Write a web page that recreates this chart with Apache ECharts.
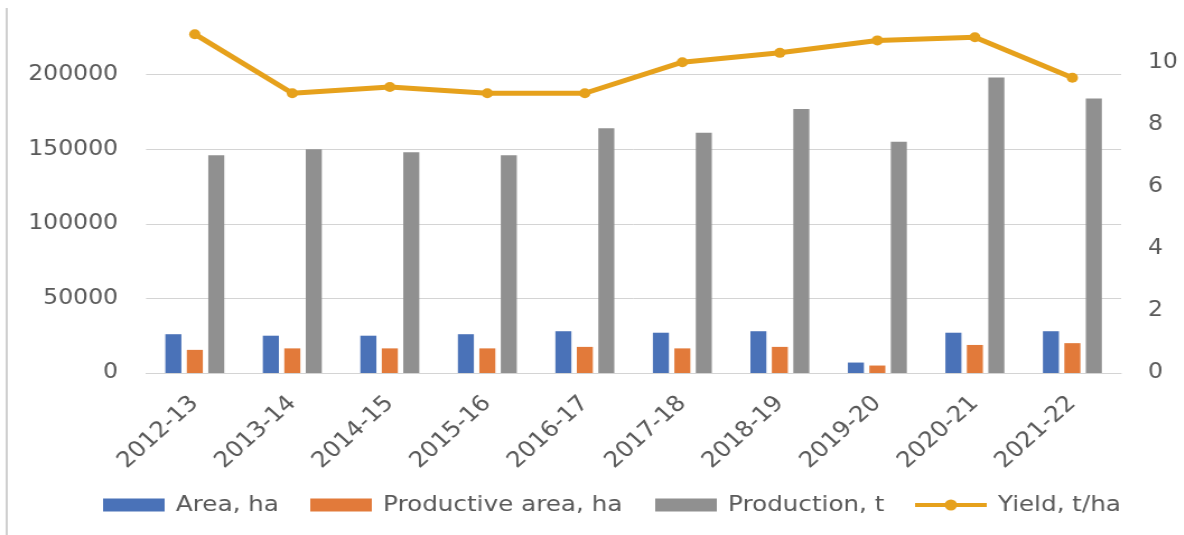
<!DOCTYPE html>
<html>
<head>
<meta charset="utf-8">
<title>Area, production and yield</title>
<script src="https://cdn.jsdelivr.net/npm/echarts@6/dist/echarts.min.js"></script>
<style>
  html, body { margin: 0; padding: 0; background: #ffffff; overflow: hidden; }
  #wrap { width: 1184px; height: 535px; overflow: hidden; position: relative; }
  /* the chart is laid out slightly narrower and widened horizontally */
  #chart { width: 1057px; height: 535px; transform: scaleX(1.12); transform-origin: 0 0; }
</style>
</head>
<body>
<div id="wrap"><div id="chart"></div></div>
<script>
const seasons = ['2012-13', '2013-14', '2014-15', '2015-16', '2016-17',
                 '2017-18', '2018-19', '2019-20', '2020-21', '2021-22'];
const areaHa = [26000, 25000, 25000, 26000, 28000, 27000, 28000, 7000, 27000, 28000];
const productiveAreaHa = [15500, 16500, 16500, 16500, 17500, 16500, 17500, 5000, 18800, 20000];
const productionT = [146000, 150000, 148000, 146000, 164000, 161000, 177000, 155000, 198000, 184000];
const yieldTHa = [10.9, 9.0, 9.2, 9.0, 9.0, 10.0, 10.3, 10.7, 10.8, 9.5];

const leftAxis = { min: 0, max: 250000, step: 50000 };
const rightAxis = { min: 0, max: 12, step: 2 };

const names = ['Area, ha', 'Productive area, ha', 'Production, t', 'Yield, t/ha'];
const colors = ['#4a72b8', '#e27a3a', '#909090', '#e6a11c'];

const FONT = 'DejaVu Sans';
const TEXT = '#595959';

// thick line with a dot in the middle, used as the yield legend key
const LINE_KEY = 'path://M0,3.5H64V7.5H0Z M26.5,5.5A5.5,5.5 0 1,1 37.5,5.5A5.5,5.5 0 1,1 26.5,5.5Z';

const chart = echarts.init(document.getElementById('chart'), null, { renderer: 'canvas' });

function legendAt(name, left, width, height, icon) {
  return {
    data: [name],
    left: left,
    top: 494,
    padding: 0,
    icon: icon,
    itemWidth: width,
    itemHeight: height,
    textStyle: { fontFamily: FONT, fontSize: 22, color: TEXT, padding: [0, 0, 0, 5] }
  };
}

const barBase = { type: 'bar', barWidth: 14.3, barGap: '34%' };

chart.setOption({
  animation: false,
  backgroundColor: '#ffffff',
  color: colors,
  grid: { left: 130.4, right: 56, top: 0, bottom: 162, containLabel: false },
  legend: [
    legendAt(names[0], 92, 55, 13, 'rect'),
    legendAt(names[1], 277, 55, 13, 'rect'),
    legendAt(names[2], 585, 55, 13, 'rect'),
    Object.assign(legendAt(names[3], 817, 64, 11, LINE_KEY), {
      itemStyle: { color: colors[3], borderWidth: 0 }
    })
  ],
  xAxis: {
    type: 'category',
    data: seasons,
    axisTick: { show: false },
    axisLine: { lineStyle: { color: '#d4d4d4', width: 1 } },
    axisLabel: {
      interval: 0, rotate: 45, margin: 27,
      fontFamily: FONT, fontSize: 22, color: TEXT
    }
  },
  yAxis: [
    {
      type: 'value',
      min: leftAxis.min, max: leftAxis.max, interval: leftAxis.step,
      axisLine: { show: false },
      axisTick: { show: false },
      axisLabel: {
        showMaxLabel: false, margin: 25, fontFamily: FONT, fontSize: 21, color: TEXT,
        formatter: (v) => String(v)
      },
      splitLine: { show: true, showMaxLine: false, lineStyle: { color: '#d4d4d4', width: 1 } }
    },
    {
      type: 'value',
      position: 'right',
      min: rightAxis.min, max: rightAxis.max, interval: rightAxis.step,
      axisLine: { show: false },
      axisTick: { show: false },
      axisLabel: { showMaxLabel: false, margin: 24, fontFamily: FONT, fontSize: 21, color: TEXT },
      splitLine: { show: false }
    }
  ],
  graphic: [
    {
      type: 'line',
      shape: { x1: 6, y1: 8, x2: 6, y2: 535 },
      style: { stroke: '#cfcfcf', lineWidth: 2 },
      silent: true
    }
  ],
  series: [
    Object.assign({}, barBase, { name: names[0], data: areaHa, itemStyle: { color: colors[0] } }),
    Object.assign({}, barBase, { name: names[1], data: productiveAreaHa, itemStyle: { color: colors[1] } }),
    Object.assign({}, barBase, { name: names[2], data: productionT, itemStyle: { color: colors[2] } }),
    {
      name: names[3],
      type: 'line',
      yAxisIndex: 1,
      data: yieldTHa,
      symbol: 'circle',
      symbolSize: 10,
      z: 10,
      lineStyle: { color: colors[3], width: 5 },
      itemStyle: { color: colors[3] }
    }
  ]
});
</script>
</body>
</html>
